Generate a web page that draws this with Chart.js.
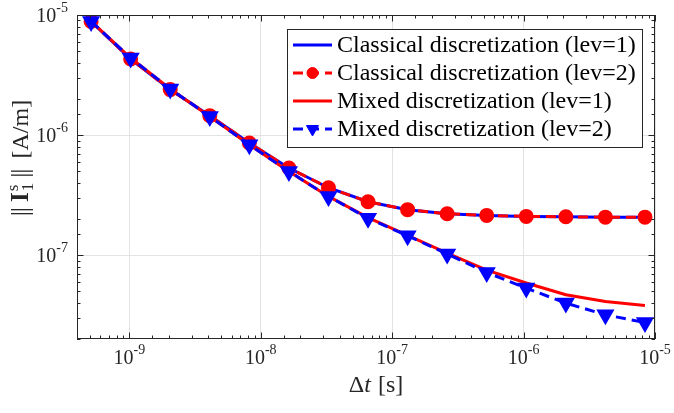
<!DOCTYPE html>
<html>
<head>
<meta charset="utf-8">
<script src="https://cdn.jsdelivr.net/npm/chart.js@4.4.1/dist/chart.umd.min.js"></script>
<style>
  html, body { margin: 0; padding: 0; background: #fff; }
  #wrap { width: 674px; height: 413px; position: relative; }
</style>
</head>
<body>
<div id="wrap"><canvas id="errChart"></canvas></div>
<script>
//time steps (x axis)
const dt_values = [5.12e-10, 1.024e-9, 2.048e-9, 4.096e-9, 8.192e-9, 1.6384e-8, 3.2768e-8,
    6.5536e-8, 1.31072e-7, 2.62144e-7, 5.24288e-7, 1.048576e-6, 2.097152e-6, 4.194304e-6, 8.388608e-6];

//series
const classical_lev1 = [8.84e-6, 4.30e-6, 2.39e-6, 1.45e-6, 8.58e-7, 5.31e-7, 3.64e-7,
    2.78e-7, 2.39e-7, 2.21e-7, 2.14e-7, 2.10e-7, 2.085e-7, 2.07e-7, 2.07e-7];
const classical_lev2 = [8.84e-6, 4.30e-6, 2.39e-6, 1.45e-6, 8.58e-7, 5.31e-7, 3.64e-7,
    2.78e-7, 2.39e-7, 2.21e-7, 2.14e-7, 2.10e-7, 2.085e-7, 2.07e-7, 2.07e-7];
const mixed_lev1 = [8.84e-6, 4.38e-6, 2.42e-6, 1.43e-6, 8.30e-7, 4.98e-7, 3.08e-7,
    2.05e-7, 1.46e-7, 1.04e-7, 7.5e-8, 5.85e-8, 4.67e-8, 4.1e-8, 3.8e-8];
const mixed_lev2 = [8.84e-6, 4.38e-6, 2.42e-6, 1.43e-6, 8.30e-7, 4.98e-7, 3.08e-7,
    2.03e-7, 1.45e-7, 1.02e-7, 7.16e-8, 5.31e-8, 3.98e-8, 3.18e-8, 2.74e-8];

const series_labels = ['Classical discretization (lev=1)', 'Classical discretization (lev=2)',
    'Mixed discretization (lev=1)', 'Mixed discretization (lev=2)'];

const x_range = [4e-10, 1e-5];
const y_range = [2e-8, 1e-5];

const BLUE = '#0000ff';
const RED = '#ff0000';
const AXIS = '#262626';
const SERIF = '"Liberation Serif", "Times New Roman", serif';

function pts(ys){
    return dt_values.map((x, i) => ({x: x, y: ys[i]}));
}

function isMajor(v){
    const l = Math.log10(v);
    return Math.abs(l - Math.round(l)) < 1e-6;
}

//draws text pieces one after another, returns total width
function drawPieces(ctx, pieces, x, y, measureOnly){
    let cx = x;
    pieces.forEach(p => {
        ctx.font = p.font;
        if (!measureOnly) ctx.fillText(p.text, cx + (p.dx || 0), y + (p.dy || 0));
        if (!p.noAdvance) cx += ctx.measureText(p.text).width + (p.gap || 0);
    });
    return cx - x;
}

//axes box, inward ticks, tick labels, axis titles, legend
const decorPlugin = {
    id: 'decor',
    afterDatasetsDraw(chart){
        const {ctx, chartArea: a, scales} = chart;
        const xs = scales.x, ys = scales.y;
        ctx.save();
        ctx.strokeStyle = AXIS;
        ctx.lineWidth = 1;

        // box
        ctx.strokeRect(Math.round(a.left) + 0.5, Math.round(a.top) + 0.5,
            Math.round(a.right - a.left) - 1, Math.round(a.bottom - a.top) - 1);

        // ticks
        ctx.beginPath();
        xs.ticks.forEach(t => {
            const px = Math.round(xs.getPixelForValue(t.value)) + 0.5;
            const len = isMajor(t.value) ? 6.5 : 3.5;
            ctx.moveTo(px, a.bottom); ctx.lineTo(px, a.bottom - len);
            ctx.moveTo(px, a.top); ctx.lineTo(px, a.top + len);
        });
        ys.ticks.forEach(t => {
            const py = Math.round(ys.getPixelForValue(t.value)) + 0.5;
            const len = isMajor(t.value) ? 6.5 : 3.5;
            ctx.moveTo(a.left, py); ctx.lineTo(a.left + len, py);
            ctx.moveTo(a.right, py); ctx.lineTo(a.right - len, py);
        });
        ctx.stroke();

        // tick labels
        ctx.fillStyle = AXIS;
        ctx.textBaseline = 'alphabetic';
        ctx.textAlign = 'left';
        const baseFont = '20px ' + SERIF;
        const expFont = '14px ' + SERIF;
        xs.ticks.filter(t => isMajor(t.value)).forEach(t => {
            const e = Math.round(Math.log10(t.value));
            const pieces = [{text: '10', font: baseFont}, {text: '-' + Math.abs(e), font: expFont, dy: -10}];
            const w = drawPieces(ctx, pieces, 0, 0, true);
            const px = xs.getPixelForValue(t.value);
            drawPieces(ctx, pieces, px - w / 2, 364);
        });
        ys.ticks.filter(t => isMajor(t.value)).forEach(t => {
            const e = Math.round(Math.log10(t.value));
            const pieces = [{text: '10', font: baseFont}, {text: '-' + Math.abs(e), font: expFont, dy: -10}];
            const w = drawPieces(ctx, pieces, 0, 0, true);
            const py = ys.getPixelForValue(t.value);
            drawPieces(ctx, pieces, 68 - w, py + 7);
        });

        // x title
        const xt = [{text: '\u0394', font: '24px ' + SERIF},
            {text: 't', font: 'italic 24px ' + SERIF, gap: 7},
            {text: '[s]', font: '24px ' + SERIF}];
        const xw = drawPieces(ctx, xt, 0, 0, true);
        drawPieces(ctx, xt, 376 - xw / 2, 392);

        // y title (rotated)
        ctx.save();
        ctx.translate(28, 158);
        ctx.rotate(-Math.PI / 2);
        const bar = '26px ' + SERIF;
        const yt = [{text: '|', font: bar, noAdvance: true},
            {text: '|', font: bar, dx: 4, gap: 9},
            {text: 'I', font: 'bold 25px ' + SERIF, gap: 1},
            {text: 's', font: '17px ' + SERIF, dy: -10, noAdvance: true},
            {text: '1', font: '17px ' + SERIF, dy: 5, gap: 5},
            {text: '|', font: bar, noAdvance: true},
            {text: '|', font: bar, dx: 4, gap: 14},
            {text: '[A/m]', font: '24px ' + SERIF}];
        const yw = drawPieces(ctx, yt, 0, 0, true);
        drawPieces(ctx, yt, -yw / 2, 0);
        ctx.restore();

        // legend
        const lg = {left: 287, top: 29, right: 642, bottom: 147};
        ctx.fillStyle = '#fff';
        ctx.fillRect(lg.left, lg.top, lg.right - lg.left, lg.bottom - lg.top);
        ctx.strokeStyle = AXIS;
        ctx.strokeRect(lg.left + 0.5, lg.top + 0.5, lg.right - lg.left, lg.bottom - lg.top);
        chart.data.datasets.forEach((ds, i) => {
            const cy = 45 + i * 28;
            ctx.save();
            ctx.strokeStyle = ds.borderColor;
            ctx.lineWidth = ds.borderWidth;
            ctx.setLineDash(ds.borderDash || []);
            ctx.beginPath();
            ctx.moveTo(293, cy); ctx.lineTo(332, cy);
            ctx.stroke();
            ctx.restore();
            if (ds.pointRadius > 0){
                ctx.save();
                ctx.fillStyle = ds.pointBackgroundColor;
                ctx.strokeStyle = ds.pointBorderColor;
                ctx.lineWidth = 1;
                Chart.helpers.drawPoint(ctx, {
                    pointStyle: ds.pointStyle, rotation: ds.pointRotation || 0,
                    radius: ds.pointRadius - 0.5, borderWidth: 1
                }, 312.5, cy);
                ctx.restore();
            }
            ctx.fillStyle = '#000';
            ctx.font = '24px ' + SERIF;
            ctx.textBaseline = 'middle';
            ctx.fillText(ds.label, 337, cy + 1);
        });
        ctx.restore();
    }
};

const chart = new Chart(document.getElementById('errChart').getContext('2d'), {
    type: 'line',
    data: {
        datasets: [{
            label: series_labels[0],
            data: pts(classical_lev1),
            borderColor: BLUE, backgroundColor: BLUE,
            borderWidth: 3, pointRadius: 0, order: 4
        }, {
            label: series_labels[1],
            data: pts(classical_lev2),
            borderColor: RED, backgroundColor: RED,
            borderWidth: 3, borderDash: [10, 6],
            pointStyle: 'circle', pointRadius: 6,
            pointBackgroundColor: RED, pointBorderColor: RED, order: 3
        }, {
            label: series_labels[2],
            data: pts(mixed_lev1),
            borderColor: RED, backgroundColor: RED,
            borderWidth: 3, pointRadius: 0, order: 2
        }, {
            label: series_labels[3],
            data: pts(mixed_lev2),
            borderColor: BLUE, backgroundColor: BLUE,
            borderWidth: 3, borderDash: [10, 6],
            pointStyle: 'triangle', pointRotation: 180, pointRadius: 7.5,
            pointBackgroundColor: BLUE, pointBorderColor: BLUE, order: 1
        }]
    },
    options: {
        responsive: true,
        maintainAspectRatio: false,
        animation: false,
        layout: { padding: { left: 77, right: 19, top: 15, bottom: 74 } },
        plugins: { legend: { display: false }, tooltip: { enabled: false } },
        elements: { line: { tension: 0 }, point: { borderWidth: 1 } },
        scales: {
            x: {
                type: 'logarithmic', min: x_range[0], max: x_range[1],
                ticks: { display: false },
                grid: { drawTicks: false, tickLength: 0,
                    color: c => isMajor(c.tick.value) ? '#e3e3e3' : 'rgba(0,0,0,0)' },
                border: { display: false }
            },
            y: {
                type: 'logarithmic', min: y_range[0], max: y_range[1],
                ticks: { display: false },
                grid: { drawTicks: false, tickLength: 0,
                    color: c => isMajor(c.tick.value) ? '#e3e3e3' : 'rgba(0,0,0,0)' },
                border: { display: false }
            }
        }
    },
    plugins: [decorPlugin]
});
</script>
</body>
</html>
